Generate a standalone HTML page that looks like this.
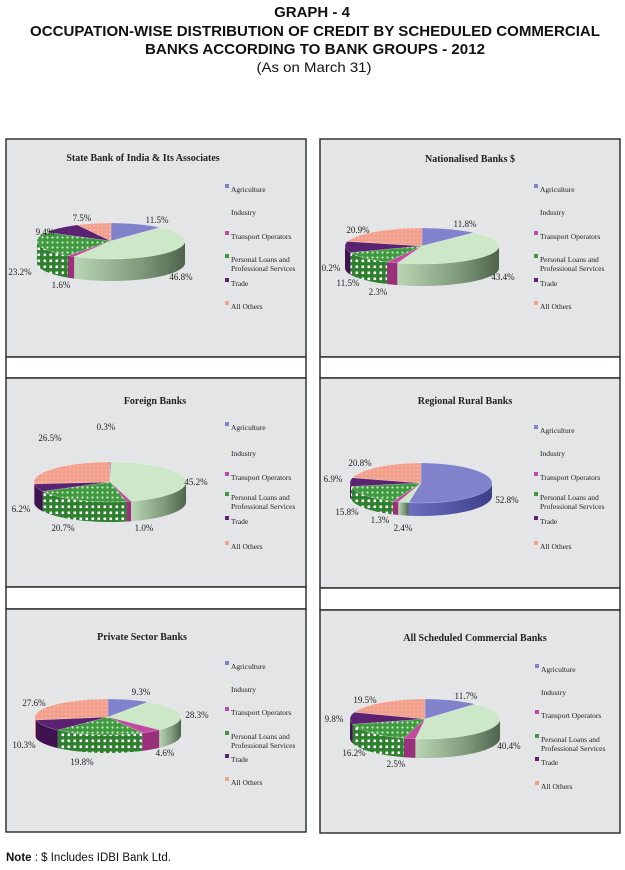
<!DOCTYPE html>
<html><head><meta charset="utf-8"><style>
html,body{margin:0;padding:0;background:#fff;width:625px;height:870px;overflow:hidden}
svg{display:block}
.h{font-family:"Liberation Sans",Arial,sans-serif;font-weight:bold;font-size:15px;fill:#111}
.t{font-family:"Liberation Serif",serif;font-weight:bold;font-size:10px;fill:#222}
.p{font-family:"Liberation Serif",serif;font-size:9px;fill:#222}
</style></head><body>
<svg id="s" width="625" height="870" viewBox="0 0 625 870" xmlns="http://www.w3.org/2000/svg" style="position:absolute;left:0;top:0">
<defs>
<pattern id="dots" width="5" height="5" patternUnits="userSpaceOnUse"><rect width="5" height="5" fill="#3e9a3e"/><circle cx="2.5" cy="2.5" r="1.1" fill="#cfe8c8"/></pattern>
<pattern id="dotsS" width="6" height="6" patternUnits="userSpaceOnUse"><rect width="6" height="6" fill="#2e7f2e"/><rect x="1.5" y="1.5" width="2.6" height="2.6" fill="#fff"/></pattern>
<pattern id="sal" width="4" height="4" patternUnits="userSpaceOnUse"><rect width="4" height="4" fill="#f2a08c"/><circle cx="2" cy="2" r="0.7" fill="#f8c4b6"/></pattern>
<linearGradient id="indS" x1="0" x2="1"><stop offset="0" stop-color="#b9d6b4"/><stop offset="0.6" stop-color="#7f9a7c"/><stop offset="1" stop-color="#4e644c"/></linearGradient>
<linearGradient id="agS" x1="0" x2="1"><stop offset="0" stop-color="#6a6fbf"/><stop offset="1" stop-color="#3d418a"/></linearGradient>
</defs>
<text class="h" x="312" y="17" text-anchor="middle">GRAPH - 4</text>
<text class="h" x="315" y="36" text-anchor="middle" textLength="570" lengthAdjust="spacingAndGlyphs">OCCUPATION-WISE DISTRIBUTION OF CREDIT BY SCHEDULED COMMERCIAL</text>
<text class="h" x="315" y="54" text-anchor="middle" textLength="340" lengthAdjust="spacingAndGlyphs">BANKS ACCORDING TO BANK GROUPS - 2012</text>
<text x="314" y="72" text-anchor="middle" style="font-family:'Liberation Sans',sans-serif;font-size:14px;fill:#111" textLength="115" lengthAdjust="spacingAndGlyphs">(As on March 31)</text>

<g stroke="#333" stroke-width="1.5">
<rect x="6" y="139" width="300" height="218" fill="#e4e5e7"/>
<rect x="6" y="357" width="300" height="21" fill="#fff"/>
<rect x="6" y="378" width="300" height="209" fill="#e4e5e7"/>
<rect x="6" y="587" width="300" height="22" fill="#fff"/>
<rect x="6" y="609" width="300" height="223" fill="#e4e5e7"/>
<rect x="320" y="139" width="300" height="218" fill="#e4e5e7"/>
<rect x="320" y="357" width="300" height="21" fill="#fff"/>
<rect x="320" y="378" width="300" height="210" fill="#e4e5e7"/>
<rect x="320" y="588" width="300" height="22" fill="#fff"/>
<rect x="320" y="610" width="300" height="223" fill="#e4e5e7"/>
</g>
<g id="pies"></g>

<text class="t" x="143" y="161" text-anchor="middle">State Bank of India &amp; Its Associates</text>
<text class="t" x="470" y="162" text-anchor="middle">Nationalised Banks $</text>
<text class="t" x="155" y="404" text-anchor="middle">Foreign Banks</text>
<text class="t" x="465" y="404" text-anchor="middle">Regional Rural Banks</text>
<text class="t" x="142" y="640" text-anchor="middle">Private Sector Banks</text>
<text class="t" x="475" y="641" text-anchor="middle">All Scheduled Commercial Banks</text>

<g id="legends"></g>

<g class="p" text-anchor="middle">
<text x="82" y="221">7.5%</text><text x="157" y="223">11.5%</text><text x="45" y="235">9.4%</text><text x="20" y="275">23.2%</text><text x="61" y="288">1.6%</text><text x="181" y="280">46.8%</text>
<text x="358" y="233">20.9%</text><text x="465" y="227">11.8%</text><text x="331" y="271">0.2%</text><text x="348" y="286">11.5%</text><text x="378" y="295">2.3%</text><text x="503" y="280">43.4%</text>
<text x="106" y="430">0.3%</text><text x="50" y="441">26.5%</text><text x="196" y="485">45.2%</text><text x="21" y="512">6.2%</text><text x="63" y="531">20.7%</text><text x="144" y="531">1.0%</text>
<text x="360" y="466">20.8%</text><text x="333" y="482">6.9%</text><text x="347" y="515">15.8%</text><text x="380" y="523">1.3%</text><text x="403" y="531">2.4%</text><text x="507" y="503">52.8%</text>
<text x="141" y="695">9.3%</text><text x="34" y="706">27.6%</text><text x="197" y="718">28.3%</text><text x="24" y="748">10.3%</text><text x="165" y="756">4.6%</text><text x="82" y="765">19.8%</text>
<text x="466" y="699">11.7%</text><text x="365" y="703">19.5%</text><text x="334" y="722">9.8%</text><text x="509" y="749">40.4%</text><text x="354" y="756">16.2%</text><text x="396" y="767">2.5%</text>
</g>

<g font-family="Liberation Serif, serif" font-size="7.5" fill="#222">
<text x="231" y="192">Agriculture</text><text x="231" y="215">Industry</text><text x="231" y="239">Transport Operators</text><text x="231" y="262">Personal Loans and</text><text x="231" y="271">Professional Services</text><text x="231" y="286">Trade</text><text x="231" y="309">All Others</text>
<text x="540" y="192">Agriculture</text><text x="540" y="215">Industry</text><text x="540" y="239">Transport Operators</text><text x="540" y="262">Personal Loans and</text><text x="540" y="271">Professional Services</text><text x="540" y="286">Trade</text><text x="540" y="309">All Others</text>
<text x="231" y="430">Agriculture</text><text x="231" y="456">Industry</text><text x="231" y="480">Transport Operators</text><text x="231" y="500">Personal Loans and</text><text x="231" y="509">Professional Services</text><text x="231" y="524">Trade</text><text x="231" y="549">All Others</text>
<text x="540" y="433">Agriculture</text><text x="540" y="456">Industry</text><text x="540" y="480">Transport Operators</text><text x="540" y="500">Personal Loans and</text><text x="540" y="509">Professional Services</text><text x="540" y="524">Trade</text><text x="540" y="549">All Others</text>
<text x="231" y="669">Agriculture</text><text x="231" y="692">Industry</text><text x="231" y="715">Transport Operators</text><text x="231" y="739">Personal Loans and</text><text x="231" y="748">Professional Services</text><text x="231" y="762">Trade</text><text x="231" y="785">All Others</text>
<text x="541" y="672">Agriculture</text><text x="541" y="695">Industry</text><text x="541" y="718">Transport Operators</text><text x="541" y="742">Personal Loans and</text><text x="541" y="751">Professional Services</text><text x="541" y="765">Trade</text><text x="541" y="789">All Others</text>
</g>
<text x="6" y="861" style="font-family:'Liberation Sans',sans-serif;font-size:11.5px;fill:#111"><tspan font-weight="bold">Note</tspan> : $ Includes IDBI Bank Ltd.</text>
</svg>
<script>
var NS="http://www.w3.org/2000/svg";
var tops=["#8083cc","#cde8c8","#c24a9e","url(#dots)","#5b2271","url(#sal)"];
var sides=["url(#agS)","url(#indS)","#9a2f7c","url(#dotsS)","#3e1350","#d98470"];
var charts=[
{cx:111,cy:241,rx:74,ry:18,d:22,v:[11.5,46.8,1.6,23.2,9.4,7.5]},
{cx:422,cy:246,rx:77,ry:18,d:22,v:[11.8,43.4,2.3,11.5,10.1,20.9]},
{cx:110,cy:482,rx:76,ry:20,d:20,v:[0.3,45.2,1.0,20.7,6.2,26.5]},
{cx:421,cy:483,rx:71,ry:20,d:13,v:[52.8,2.4,1.3,15.8,6.9,20.8]},
{cx:108,cy:717,rx:73,ry:18,d:18,v:[9.3,28.3,4.6,19.8,10.3,27.6]},
{cx:425,cy:719,rx:75,ry:20,d:19,v:[11.7,40.4,2.5,16.2,9.8,19.5]}];
var g=document.getElementById("pies");
function el(p,n,a){var e=document.createElementNS(NS,n);for(var k in a)e.setAttribute(k,a[k]);p.appendChild(e);return e;}
charts.forEach(function(c){
 var tot=c.v.reduce(function(a,b){return a+b},0),a=0,sl=[];
 c.v.forEach(function(v,i){var b=a+v/tot*2*Math.PI;sl.push([a,b,i]);a=b;});
 function P(t,dy){return [c.cx+c.rx*Math.sin(t),c.cy-c.ry*Math.cos(t)+(dy||0)];}
 function arc(a0,a1,dy){var s="",n=Math.max(2,Math.ceil(Math.abs(a1-a0)/0.05));for(var k=0;k<=n;k++){var p=P(a0+(a1-a0)*k/n,dy);s+=(k?"L":"")+p[0].toFixed(2)+","+p[1].toFixed(2);}return s;}
 sl.forEach(function(s){var a0=Math.max(s[0],Math.PI/2),a1=Math.min(s[1],3*Math.PI/2);if(a1<=a0)return;
  el(g,"path",{d:"M"+arc(a0,a1,0)+"L"+arc(a1,a0,c.d)+"Z",fill:sides[s[2]]});});
 sl.forEach(function(s){el(g,"path",{d:"M"+c.cx+","+c.cy+"L"+arc(s[0],s[1],0)+"Z",fill:tops[s[2]],stroke:"rgba(255,255,255,0.35)","stroke-width":"0.5"});});
});
var lg=document.getElementById("legends");
var L=[[231,[189,212,236,259,283,306]],[540,[189,212,236,259,283,306]],[231,[427,453,477,497,521,546]],[540,[430,453,477,497,521,546]],[231,[666,689,712,736,759,782]],[541,[669,692,715,739,762,786]]];
var mk=["#8083cc","#e0efdc","#c24a9e","#3e9a3e","#5b2271","#f2a08c"];
L.forEach(function(o){o[1].forEach(function(y,i){
 el(lg,"rect",{x:o[0]-6,y:y-5,width:4,height:4,fill:mk[i]});
});});
</script>
</body></html>
